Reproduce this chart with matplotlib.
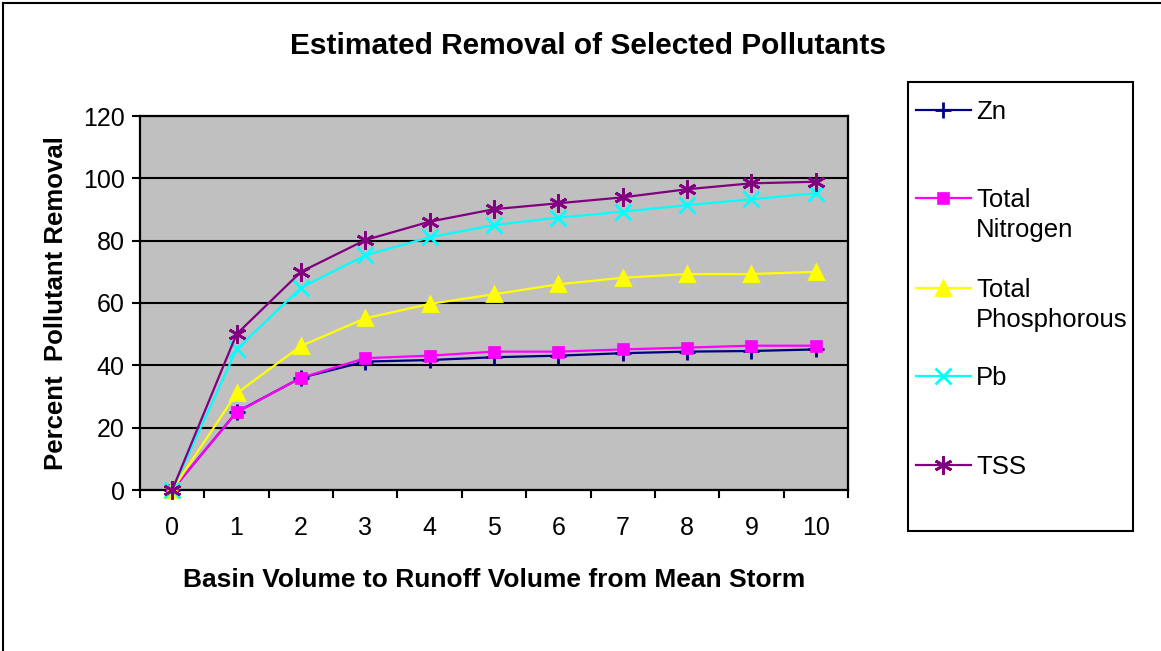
# Estimated removal of selected pollutants vs basin/runoff volume ratio
import numpy as np
import matplotlib.pyplot as plt
from matplotlib.lines import Line2D

plt.rcParams['font.family'] = ['Liberation Sans', 'DejaVu Sans']

# Data
ratio = ['0', '1', '2', '3', '4', '5', '6', '7', '8', '9', '10']
zn = [0, 25, 36, 41.2, 41.7, 42.6, 43.1, 43.9, 44.4, 44.6, 45.1]
nitrogen = [0, 24.9, 36.0, 42.3, 43.1, 44.4, 44.4, 45.1, 45.7, 46.3, 46.3]
phosphorous = [0, 31.0, 46.2, 55.1, 59.7, 62.8, 66.0, 68.1, 69.3, 69.3, 70.0]
pb = [0, 45.1, 64.9, 75.3, 81.1, 85.0, 87.4, 89.3, 91.4, 93.3, 95.2]
tss = [0, 50.0, 70.0, 80.2, 86.1, 90.1, 92.0, 93.9, 96.5, 98.4, 98.9]

# legend names: first line goes in the legend row, second line (if any) below it
series_names = [('Zn', ''), ('Total', 'Nitrogen'), ('Total', 'Phosphorous'), ('Pb', ''), ('TSS', '')]
series_values = [zn, nitrogen, phosphorous, pb, tss]
colors = ['#000080', '#FF00FF', '#FFFF00', '#00FFFF', '#800080']
markers = ['+', 's', '^', 'x', (6, 2, 0)]
msizes = [11, 9, 10, 11, 13]

W, H = 1161, 651
fig = plt.figure(figsize=(W / 100, H / 100), dpi=100)
ax = fig.add_axes([140 / W, 1 - 490 / H, (848 - 140) / W, (490 - 116) / H])
ax.set_facecolor('#C0C0C0')

x = np.arange(len(ratio))
lines = []
for vals, c, m, ms in zip(series_values, colors, markers, msizes):
    ln, = ax.plot(x, vals, color=c, lw=1.6, marker=m, markersize=ms,
                  markeredgewidth=2 if m != 's' else 0.5, markeredgecolor=c,
                  clip_on=False, zorder=3)
    lines.append(ln)

ax.set_xlim(-0.5, len(ratio) - 0.5)
ax.set_ylim(0, 120)
ax.set_yticks(np.arange(0, 121, 20))
ax.yaxis.grid(True, color='black', lw=1.5)
ax.set_axisbelow(True)
ax.set_xticks(x)
ax.set_xticklabels(ratio)
ax.set_xticks(np.arange(-0.5, len(ratio)), minor=True)
ax.tick_params(axis='x', which='major', length=0, pad=19, labelsize=18)
ax.tick_params(axis='x', which='minor', length=6, width=1.5, direction='out')
ax.tick_params(axis='y', length=6, width=1.5, direction='out', pad=5, labelsize=18)
for s in ax.spines.values():
    s.set_linewidth(1.6)
    s.set_color('black')

ax.set_xlabel('Basin Volume to Runoff Volume from Mean Storm', fontsize=19,
              fontweight='bold', labelpad=20)
ax.set_ylabel('Percent  Pollutant Removal', fontsize=18.5, fontweight='bold', labelpad=11)
fig.text(588 / W, 1 - 46 / H, 'Estimated Removal of Selected Pollutants',
         fontsize=21.5, fontweight='bold', ha='center', va='center')

# figure frame (top and left edges visible)
fig.add_artist(Line2D([3 / W, 1], [1 - 3 / H, 1 - 3 / H], color='black', lw=1.5))
fig.add_artist(Line2D([3 / W, 3 / W], [0, 1 - 3 / H], color='black', lw=1.5))

# legend box
fig.add_artist(plt.Rectangle((908 / W, 1 - 531 / H), (1133 - 908) / W, (531 - 82) / H,
                             transform=fig.transFigure, fill=False, ec='black', lw=1.5))
leg_fs = 18.5
fs_px = leg_fs * 100 / 72
hl, htp = 55 / fs_px, 5 / fs_px
leg_x = 916
row_centers = [112, 200, 290, 378, 467]
for ln, (first, second), yc in zip(lines, series_names, row_centers):
    fig.legend([ln], [first], loc='center left', bbox_to_anchor=(leg_x / W, 1 - yc / H),
               frameon=False, borderpad=0, borderaxespad=0, fontsize=leg_fs,
               handlelength=hl, handletextpad=htp)
    if second:
        fig.text((leg_x + 60) / W, 1 - (yc + 30) / H, second, fontsize=leg_fs,
                 ha='left', va='center')

fig.savefig('out.png', dpi=100)
